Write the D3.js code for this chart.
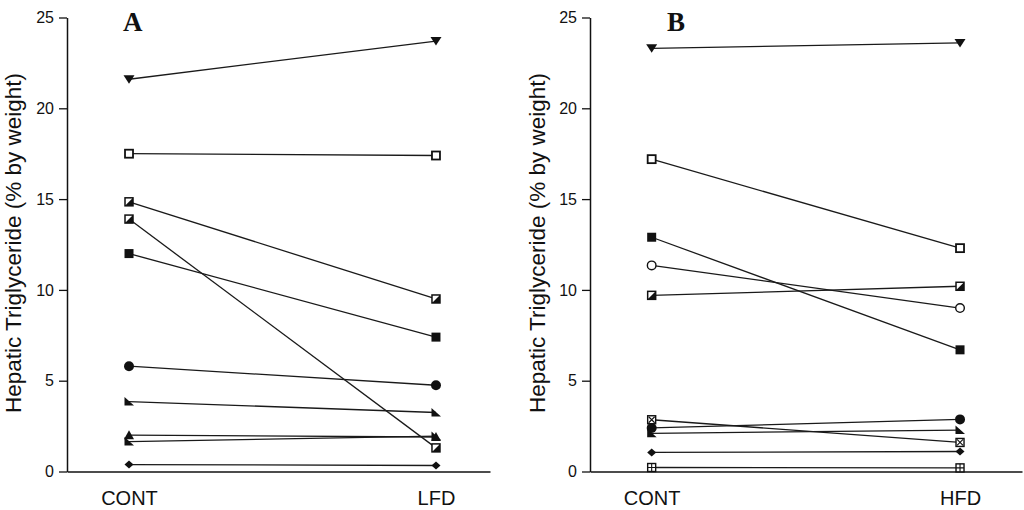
<!DOCTYPE html>
<html>
<head>
<meta charset="utf-8">
<script src="https://cdn.jsdelivr.net/npm/d3@7"></script>
<style>
  html, body { margin: 0; padding: 0; background: #fff; }
  svg { display: block; }
</style>
</head>
<body>
<svg id="chart" width="1024" height="510"></svg>
<script>
// ---- data ----
const groupsA = ["CONT", "LFD"];
const contA = [21.6, 17.5, 14.85, 13.9, 12.0, 5.8, 3.85, 2.0, 1.65, 0.38];
const lfdA  = [23.7, 17.4, 9.5, 1.3, 7.4, 4.75, 3.25, 1.9, 1.95, 0.33];
const symbolsA = ["downTri", "openSquare", "halfSquare", "halfSquare", "filledSquare",
                  "filledCircle", "rightTri", "upTri", "rightTri", "diamond"];

const groupsB = ["CONT", "HFD"];
const contB = [23.3, 17.2, 12.9, 11.35, 9.7, 2.85, 2.4, 2.1, 1.05, 0.22];
const hfdB  = [23.6, 12.3, 6.7, 9.0, 10.2, 1.6, 2.87, 2.28, 1.1, 0.2];
const symbolsB = ["downTri", "openSquare", "filledSquare", "openCircle", "halfSquare",
                  "crossSquare", "filledCircle", "rightTri", "diamond", "gridSquare"];

const yTicks = [0, 5, 10, 15, 20, 25];
const yLabel = "Hepatic Triglyceride (% by weight)";
const panelLetters = ["A", "B"];

// ---- drawing ----
const svg = d3.select("#chart");
const INK = "#111";

function drawMarker(g, type) {
  switch (type) {
    case "downTri":
      g.append("path").attr("d", "M-5.5,-4 L5.5,-4 L0,4.5 Z").attr("fill", INK); break;
    case "upTri":
      g.append("path").attr("d", "M0,-5 L5,4 L-5,4 Z").attr("fill", INK); break;
    case "rightTri":
      g.append("path").attr("d", "M-4.5,-4.5 L-4.5,4 L5,4 Z").attr("fill", INK); break;
    case "openSquare":
      g.append("rect").attr("x", -4).attr("y", -4).attr("width", 8).attr("height", 8)
        .attr("fill", "#fff").attr("stroke", INK).attr("stroke-width", 1.8); break;
    case "halfSquare":
      g.append("rect").attr("x", -4).attr("y", -4).attr("width", 8).attr("height", 8)
        .attr("fill", "#fff").attr("stroke", INK).attr("stroke-width", 1.5);
      g.append("path").attr("d", "M4,-4 L4,4 L-4,4 Z").attr("fill", INK); break;
    case "filledSquare":
      g.append("rect").attr("x", -4.5).attr("y", -4.5).attr("width", 9).attr("height", 9)
        .attr("fill", INK); break;
    case "filledCircle":
      g.append("circle").attr("r", 5).attr("fill", INK); break;
    case "openCircle":
      g.append("circle").attr("r", 4.3).attr("fill", "#fff").attr("stroke", INK).attr("stroke-width", 1.4); break;
    case "crossSquare":
      g.append("rect").attr("x", -4).attr("y", -4).attr("width", 8).attr("height", 8)
        .attr("fill", "#fff").attr("stroke", INK).attr("stroke-width", 1.4);
      g.append("path").attr("d", "M-3,-3 L3,3 M3,-3 L-3,3").attr("stroke", INK).attr("stroke-width", 1.1); break;
    case "gridSquare":
      g.append("rect").attr("x", -4).attr("y", -4).attr("width", 8).attr("height", 8)
        .attr("fill", "#fff").attr("stroke", INK).attr("stroke-width", 1.4);
      g.append("path").attr("d", "M0,-4 L0,4 M-4,0 L4,0").attr("stroke", INK).attr("stroke-width", 1.1); break;
    case "diamond":
      g.append("path").attr("d", "M0,-4 L4.5,0 L0,4 L-4.5,0 Z").attr("fill", INK); break;
  }
}

function panel(cfg) {
  const { groups, before, after, symbols, axisX, xStart, xEnd, dom, labelX, letter, letterX } = cfg;
  const y = d3.scaleLinear().domain([0, 25]).range([471.5, 17.5]);
  const x = d3.scaleLinear().domain(dom).range([xStart, xEnd]);

  // y axis
  const yAxis = d3.axisLeft(y).tickValues(yTicks).tickSize(8).tickSizeOuter(0).tickPadding(5);
  const gy = svg.append("g").attr("transform", `translate(${axisX},0)`).call(yAxis);
  gy.select(".domain").attr("stroke", INK).attr("stroke-width", 1.5);
  gy.selectAll(".tick line").attr("stroke", INK).attr("stroke-width", 1.3);
  gy.selectAll(".tick text").attr("fill", INK).style("font-family", "'Liberation Sans', Arial, sans-serif")
    .style("font-size", "16px");

  // x axis
  const xAxis = d3.axisBottom(x).tickValues([0, 1]).tickSize(0).tickSizeOuter(0)
    .tickFormat(i => groups[i]);
  const gx = svg.append("g").attr("transform", `translate(0,${y(0)})`).call(xAxis);
  gx.select(".domain").attr("stroke", INK).attr("stroke-width", 1.5);
  gx.selectAll(".tick text").attr("fill", INK).attr("dy", null).attr("y", 33.5)
    .style("font-family", "'Liberation Sans', Arial, sans-serif").style("font-size", "20px");

  // y label
  svg.append("text")
    .attr("transform", `translate(${labelX},243) rotate(-90)`)
    .attr("text-anchor", "middle")
    .attr("fill", INK)
    .style("font-family", "'Liberation Sans', Arial, sans-serif")
    .style("font-size", "22.5px")
    .text(yLabel);

  // panel letter
  svg.append("text")
    .attr("x", letterX).attr("y", 31)
    .attr("fill", INK)
    .style("font-family", "'Liberation Serif', 'Times New Roman', serif")
    .style("font-weight", "bold")
    .style("font-size", "27px")
    .text(letter);

  const rows = before.map((v, i) => ({ a: v, b: after[i], s: symbols[i] }));

  // lines
  svg.append("g").selectAll("line").data(rows).join("line")
    .attr("x1", x(0)).attr("x2", x(1))
    .attr("y1", d => y(d.a)).attr("y2", d => y(d.b))
    .attr("stroke", "#1a1a1a").attr("stroke-width", 1.3);

  // markers
  const mg = svg.append("g");
  rows.forEach(d => {
    drawMarker(mg.append("g").attr("transform", `translate(${x(0)},${y(d.a)})`), d.s);
    drawMarker(mg.append("g").attr("transform", `translate(${x(1)},${y(d.b)})`), d.s);
  });
}

panel({ groups: groupsA, before: contA, after: lfdA, symbols: symbolsA,
        axisX: 67, xStart: 67, xEnd: 490, dom: [-0.202, 1.176],
        labelX: 21, letter: panelLetters[0], letterX: 123 });
panel({ groups: groupsB, before: contB, after: hfdB, symbols: symbolsB,
        axisX: 590, xStart: 590, xEnd: 1022, dom: [-0.2, 1.201],
        labelX: 545, letter: panelLetters[1], letterX: 667 });
</script>
</body>
</html>
